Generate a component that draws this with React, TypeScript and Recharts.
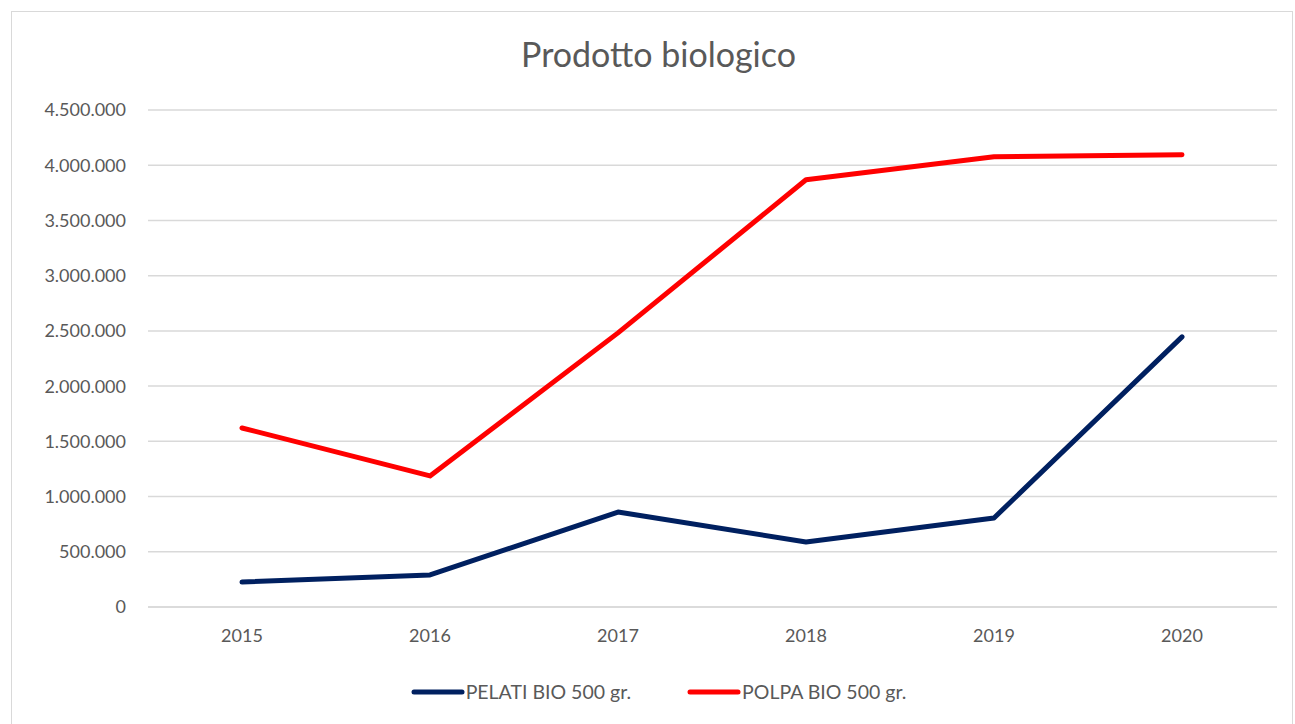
import { LineChart, Line, XAxis, YAxis, CartesianGrid } from "recharts";

const years = ["2015", "2016", "2017", "2018", "2019", "2020"];
const pelati = [226000, 290000, 860000, 589000, 806000, 2446000];
const polpa = [1621000, 1187000, 2482000, 3868000, 4076000, 4094000];
const yTicks = [0, 500000, 1000000, 1500000, 2000000, 2500000, 3000000, 3500000, 4000000, 4500000];

const data = years.map((year, i) => ({ year, pelati: pelati[i], polpa: polpa[i] }));

const font = "Lato, 'Open Sans', sans-serif";
const fmt = (v: number) => v.toLocaleString("it-IT").replace(/\s/g, ".");

const series = [
  { key: "pelati", name: "PELATI BIO 500 gr.", color: "#002060" },
  { key: "polpa", name: "POLPA BIO 500 gr.", color: "#ff0000" },
];

function LegendBox() {
  return (
    <div style={{ position: "absolute", left: 0, top: 680, width: 1317, display: "flex", justifyContent: "center", gap: 56, fontFamily: font, fontSize: 19.5, color: "#595959" }}>
      {series.map((s) => (
        <div key={s.key} style={{ display: "flex", alignItems: "center" }}>
          <svg width={54} height={8}>
            <line x1={3} y1={4} x2={51} y2={4} stroke={s.color} strokeWidth={5} strokeLinecap="round" />
          </svg>
          <span style={{ marginLeft: 1 }}>{s.name}</span>
        </div>
      ))}
    </div>
  );
}

export default function App() {
  return (
    <div style={{ position: "absolute", left: 0, top: 0, width: 1295, height: 724, background: "#fff" }}>
      <div style={{ position: "absolute", left: 11, top: 11, width: 1282, height: 720, border: "1.5px solid #d9d9d9", boxSizing: "border-box" }} />
      <div style={{ position: "absolute", left: 0, top: 33, width: 1317, textAlign: "center", fontFamily: font, fontSize: 34, color: "#595959" }}>
        Prodotto biologico
      </div>
      <LineChart width={1295} height={724} data={data} margin={{ top: 110, right: 18, left: 0, bottom: 87 }} style={{ position: "absolute", left: 0, top: 0 }}>
        <CartesianGrid vertical={false} stroke="#d9d9d9" strokeWidth={1.5} />
        <XAxis dataKey="year" height={30} padding={{ left: 94, right: 95 }} axisLine={{ stroke: "#d9d9d9", strokeWidth: 1.5 }} tickLine={false} tickSize={0} tickMargin={22}
          tick={{ fill: "#595959", fontSize: 18, fontFamily: font }} />
        <YAxis width={148} domain={[0, 4500000]} ticks={yTicks} tickFormatter={fmt} axisLine={false} tickLine={false} tickSize={0} tickMargin={22}
          tick={{ fill: "#595959", fontSize: 18, fontFamily: font }} />
        {series.map((s) => (
          <Line key={s.key} dataKey={s.key} name={s.name} stroke={s.color} strokeWidth={5} strokeLinecap="round" strokeLinejoin="round" dot={false} isAnimationActive={false} />
        ))}
      </LineChart>
      <LegendBox />
    </div>
  );
}
